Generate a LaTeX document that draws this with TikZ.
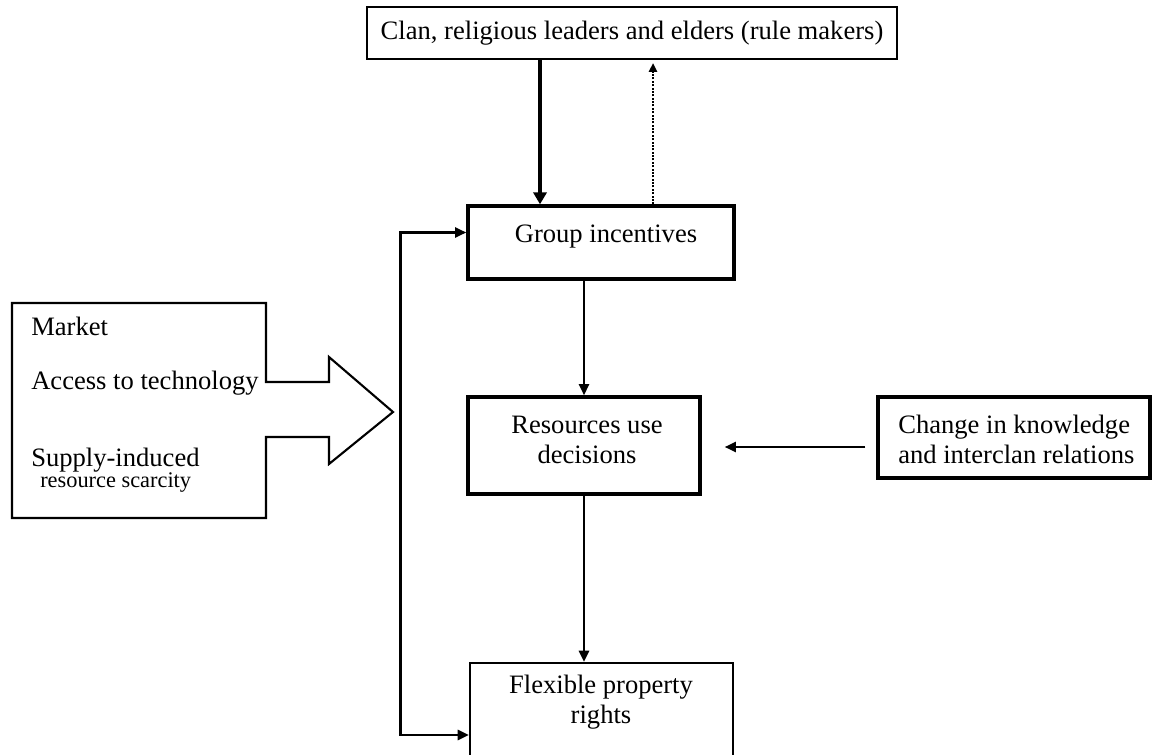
\documentclass[tikz,border=0pt]{standalone}
\usepackage{fontspec}
\setmainfont{Liberation Serif}
\usetikzlibrary{arrows.meta,calc,positioning}

\tikzset{
  thinbox/.style={draw, line width=1.5pt, inner sep=0pt},
  thickbox/.style={draw, line width=2.4pt, inner sep=0pt},
  lbl/.style={inner sep=0pt, align=center},
  arr/.style={line width=1.8pt, -{Triangle[length=0.28cm,width=0.25cm]}},
}

\begin{document}
\begin{tikzpicture}[x=0.025cm, y=-0.025cm, font=\fontsize{18.9}{21.3}\selectfont,
  thickarr/.style={line width=3pt, -{Triangle[length=0.3cm,width=0.33cm]}},
  dotarr/.style={line width=1.5pt, dash pattern=on 1.4pt off 1pt, -{Triangle[length=0.22cm,width=0.2cm]}}]
    \useasboundingbox (0,0) rectangle (1156,755);
    \clip (0,0) rectangle (1156,755);

    % boxes
    \node[thinbox, minimum width=13.25cm, minimum height=1.3cm] (clan) at (632,33)
        {Clan, religious leaders and elders (rule makers)};
    \node[thickbox, minimum width=6.65cm, minimum height=1.825cm] (group) at (601,242.5) {};
    \node[lbl, anchor=base] (grouptxt) at (606,242) {Group incentives};
    \node[thickbox, minimum width=5.8cm, minimum height=2.425cm] (res) at (584,445.5) {};
    \node[lbl, anchor=base] (restxt) at (587,463) {Resources use\\decisions};
    \node[thickbox, minimum width=6.8cm, minimum height=2.025cm] (change) at (1014,437.5) {};
    \node[lbl, align=left, anchor=base west] (changetxt) at (898,463)
        {Change in knowledge\\and interclan relations};
    \node[thinbox, minimum width=6.575cm, minimum height=3.6cm] (flex) at (601.5,735) {};
    \node[lbl, anchor=base] (flextxt) at (601,723) {Flexible property\\rights};

    % market box with arrow
    \draw[line width=1.5pt] (12,303) -- (266,303) -- (266,382) -- (329,382) -- (329,357)
        -- (393,412) -- (329,464) -- (329,437) -- (266,437) -- (266,518) -- (12,518) -- cycle;
    \node[lbl, anchor=base west] (market) at (31,335) {Market};
    \node[lbl, anchor=base west] (access) at (31,389) {Access to technology};
    \node[lbl, anchor=base west] (supply) at (31,466) {Supply-induced};
    \node[lbl, anchor=base west, font=\fontsize{15.9}{18}\selectfont] (scarce) at (40,487)
        {resource scarcity};

    % rule makers
    \coordinate (rdown) at ($(clan.south)+(-92,0)$);
    \coordinate (rup) at ($(clan.south)+(21,3)$);
    \draw[thickarr] (rdown) -- (rdown |- group.north);
    \draw[dotarr] (rup |- group.north) -- (rup);

    % main chain
    \draw[arr] (res.north |- group.south) -- (res.north);
    \draw[arr] (res.south) -- (res.south |- flex.north);

    \coordinate (chtail) at ($(change.west)+(-11,9.5)$);
    \coordinate (chhead) at ($(res.east |- chtail)+(23,0)$);
    \draw[arr] (chtail) -- (chhead);

    % feedback rail
    \coordinate (railtop) at ($(group.west)+(-66,-10)$);
    \coordinate (railbot) at (railtop |- flex.west);
    \draw[arr, {Triangle[length=0.28cm,width=0.25cm]}-{Triangle[length=0.28cm,width=0.25cm]}]
        (group.west |- railtop) -- (railtop) -- (railbot) -- (flex.west);
\end{tikzpicture}
\end{document}
